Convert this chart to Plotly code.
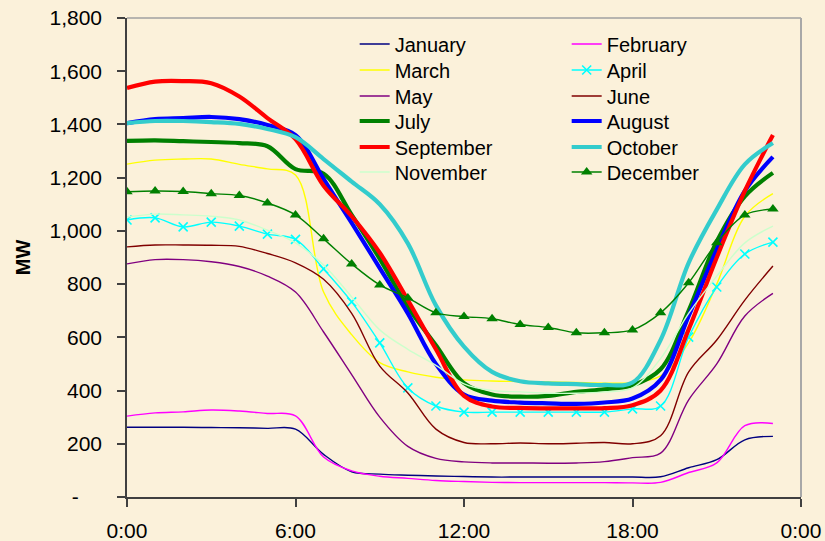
import plotly.graph_objects as go

HOURS = list(range(24))
X_TICK_VALS = [0, 6, 12, 18, 24]
X_TICK_TEXT = ["0:00", "6:00", "12:00", "18:00", "0:00"]
Y_TICK_VALS = [0, 200, 400, 600, 800, 1000, 1200, 1400, 1600, 1800]
Y_TICK_TEXT = ["-\u00a0\u00a0\u00a0\u00a0", "200", "400", "600", "800", "1,000", "1,200", "1,400", "1,600", "1,800"]

january = [262,262,262,261,260,258,255,160,95,86,82,79,77,75,75,75,75,75,75,76,110,140,215,228]
february = [304,316,320,327,323,314,305,150,98,78,70,62,58,55,54,54,54,54,53,55,92,128,268,276]
march = [1251,1266,1270,1270,1250,1233,1210,770,610,505,470,450,440,436,434,432,430,428,430,455,580,800,1055,1140]
april = [1041,1049,1015,1033,1018,988,968,857,733,579,410,342,319,319,319,319,319,319,331,342,601,789,913,958]
may = [876,892,892,884,866,830,770,620,460,300,190,145,132,128,128,127,128,133,148,165,365,500,680,765]
june = [940,947,947,946,942,915,880,818,690,492,391,255,205,200,203,200,202,205,200,230,470,590,740,868]
july = [1338,1340,1337,1334,1330,1318,1232,1215,1060,895,715,570,428,385,377,380,395,405,420,480,700,960,1130,1218]
august = [1405,1420,1424,1428,1420,1398,1360,1195,1030,860,690,500,385,362,355,352,350,355,370,440,680,930,1150,1278]
september = [1537,1561,1563,1555,1505,1424,1345,1170,1055,918,740,555,380,340,335,333,333,334,345,400,630,900,1150,1360]
october = [1405,1413,1413,1409,1402,1383,1352,1270,1185,1100,953,720,565,470,435,427,424,421,430,590,880,1080,1250,1330]
november = [1052,1063,1060,1055,1041,1003,955,872,752,628,555,495,425,400,395,390,390,395,410,520,690,830,955,1018]
december = [1147,1150,1148,1140,1133,1105,1060,970,876,797,748,692,678,670,648,637,617,617,628,692,805,955,1060,1082]

# (name, values, colour, line width, marker symbol, legend row)
SERIES = [
    ("January", january, "#000080", 1.4, None, 1),
    ("February", february, "#FF00FF", 1.4, None, 1),
    ("March", march, "#FFFF00", 1.4, None, 2),
    ("April", april, "#00FFFF", 1.4, "x-thin", 2),
    ("May", may, "#800080", 1.4, None, 3),
    ("June", june, "#800000", 1.4, None, 3),
    ("July", july, "#008000", 4.2, None, 4),
    ("August", august, "#0000FF", 4.2, None, 4),
    ("September", september, "#FF0000", 4.2, None, 5),
    ("October", october, "#33CCCC", 4.2, None, 5),
    ("November", november, "#CCFFCC", 1.4, None, 6),
    ("December", december, "#008000", 1.4, "triangle-up", 6),
]

fig = go.Figure()
for name, vals, color, width, marker, row in SERIES:
    kw = {}
    if marker == "x-thin":
        kw["mode"] = "lines+markers"
        kw["marker"] = dict(symbol="x-thin", size=9, color=color, line=dict(color=color, width=1.6))
    elif marker == "triangle-up":
        kw["mode"] = "lines+markers"
        kw["marker"] = dict(symbol="triangle-up", size=10, color=color)
    else:
        kw["mode"] = "lines"
    fig.add_trace(go.Scatter(
        x=HOURS, y=vals, name=name,
        legend="legend" if row == 1 else f"legend{row}",
        line=dict(color=color, width=width, shape="spline", smoothing=1.0),
        **kw))

BG = "#FBF1DA"
FONT = "Arial, Liberation Sans, sans-serif"
PLOT_TOP, PLOT_BOTTOM = 18, 497
ROW_CENTERS = [44, 70, 96, 121, 147, 172]

legends = {}
for i, yc in enumerate(ROW_CENTERS, start=1):
    key = "legend" if i == 1 else f"legend{i}"
    legends[key] = dict(
        bgcolor="rgba(0,0,0,0)", font=dict(family=FONT, size=20, color="black"),
        orientation="h", xanchor="left", yanchor="middle",
        x=0.3378, y=(PLOT_BOTTOM - yc) / (PLOT_BOTTOM - PLOT_TOP),
        itemwidth=30, entrywidth=167, entrywidthmode="pixels",
    )

fig.update_layout(
    width=825, height=541,
    margin=dict(l=127, r=24, t=18, b=44),
    paper_bgcolor=BG, plot_bgcolor=BG,
    font=dict(family=FONT, color="black"),
    xaxis=dict(
        range=[0, 24], tickvals=X_TICK_VALS, ticktext=X_TICK_TEXT, automargin=False,
        showgrid=False, zeroline=False, showline=True, linecolor="#404040", linewidth=1.5,
        ticks="outside", ticklen=8, tickcolor="#404040", tickwidth=1.5,
        tickfont=dict(size=21, family=FONT, color="black"), ticklabelstandoff=6,
    ),
    yaxis=dict(
        range=[0, 1800], tickvals=Y_TICK_VALS, ticktext=Y_TICK_TEXT, automargin=False,
        showgrid=False, zeroline=False, showline=True, linecolor="#404040", linewidth=1.5,
        ticks="outside", ticklen=8, tickcolor="#404040", tickwidth=1.5,
        tickfont=dict(size=21, family=FONT, color="black"), ticklabelstandoff=11,
        title=dict(text="<b>MW</b>", font=dict(size=20, family=FONT, color="black"), standoff=13),
    ),
    shapes=[
        dict(type="line", xref="paper", yref="paper", x0=0, x1=1, y0=1, y1=1,
             line=dict(color="#A0A0A0", width=1.5)),
        dict(type="line", xref="paper", yref="paper", x0=1, x1=1, y0=0, y1=1,
             line=dict(color="#A8A8A8", width=2)),
    ],
    **legends,
)

fig.write_html(
    "out.html",
    config={"displayModeBar": False},
    post_script="document.body.style.margin='0';document.body.style.background='" + BG + "';",
)
